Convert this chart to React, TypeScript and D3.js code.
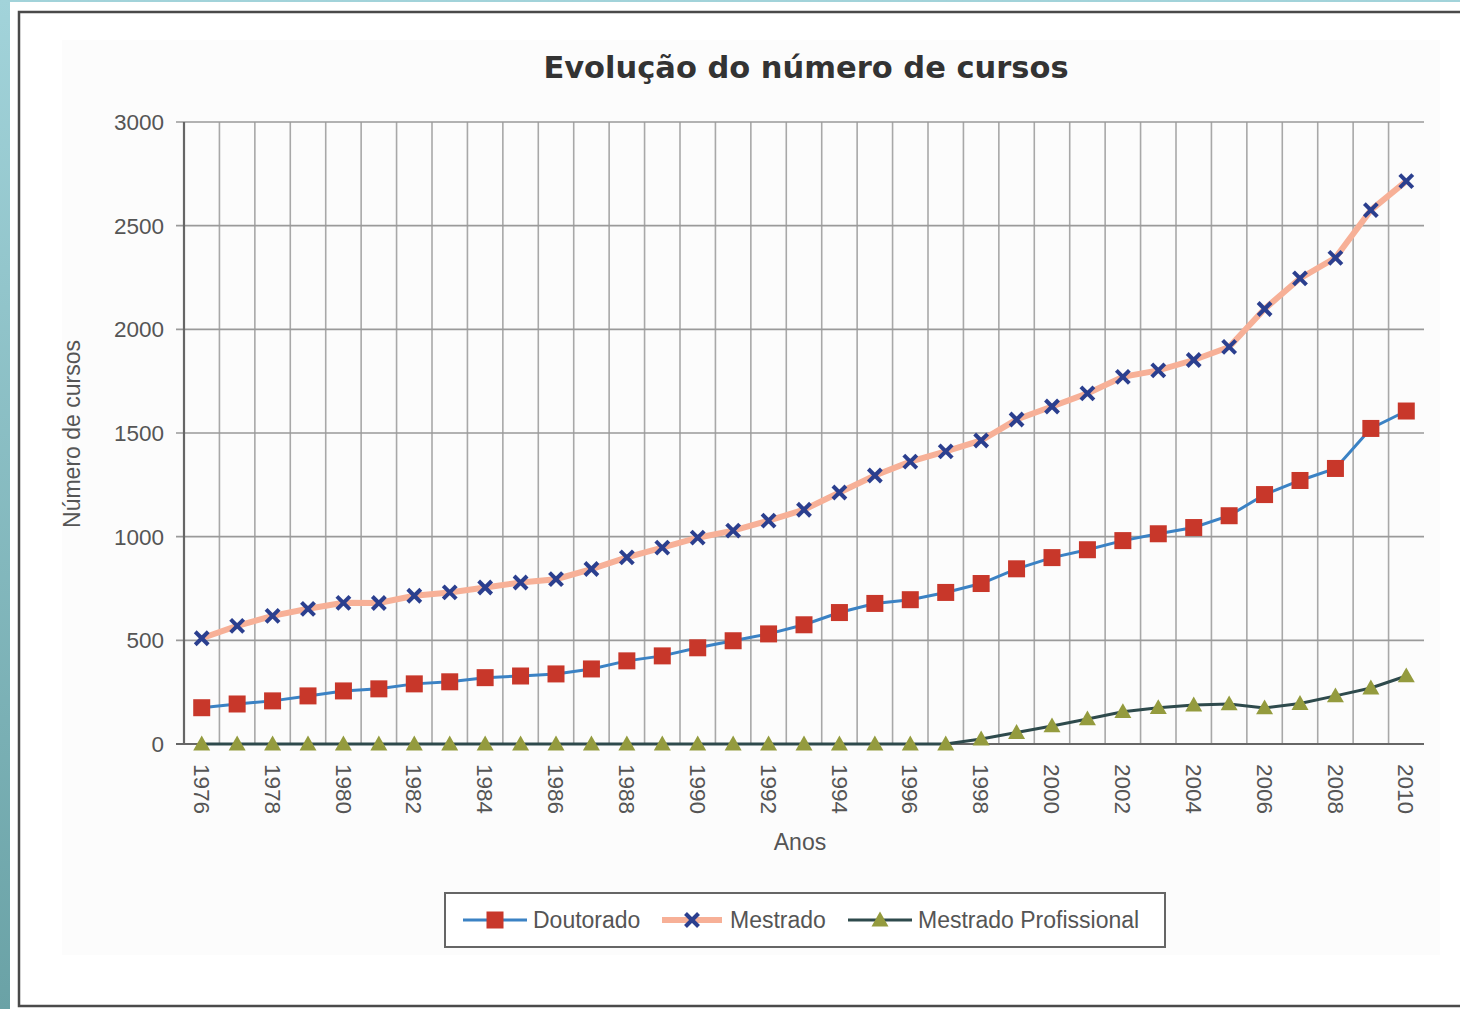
import React from "react";
import * as d3 from "d3";

const years: number[] = [
  1976, 1977, 1978, 1979, 1980, 1981, 1982, 1983, 1984, 1985, 1986, 1987,
  1988, 1989, 1990, 1991, 1992, 1993, 1994, 1995, 1996, 1997, 1998, 1999,
  2000, 2001, 2002, 2003, 2004, 2005, 2006, 2007, 2008, 2009, 2010,
];

const doutorado: number[] = [
  175, 193, 208, 232, 256, 266, 290, 300, 320, 328, 338, 362,
  401, 425, 464, 498, 531, 575, 634, 678, 696, 731, 774, 845,
  899, 937, 981, 1014, 1044, 1101, 1203, 1271, 1329, 1522, 1606,
];

const mestrado: number[] = [
  510, 570, 618, 652, 681, 680, 715, 731, 755, 779, 795, 844,
  900, 947, 995, 1029, 1077, 1130, 1213, 1295, 1362, 1411, 1464, 1565,
  1628, 1691, 1771, 1802, 1852, 1915, 2098, 2246, 2345, 2575, 2715,
];

const mestradoProfissional: number[] = [
  0, 0, 0, 0, 0, 0, 0, 0, 0, 0, 0, 0,
  0, 0, 0, 0, 0, 0, 0, 0, 0, 0, 24, 55,
  87, 121, 156, 175, 188, 193, 174, 195, 232, 270, 328,
];

const yTicks: number[] = [0, 500, 1000, 1500, 2000, 2500, 3000];
const xTickYears: number[] = years.filter((y) => (y - 1976) % 2 === 0);

const TITLE = "Evolução do número de cursos";
const Y_TITLE = "Número de cursos";
const X_TITLE = "Anos";
const seriesNames = ["Doutorado", "Mestrado", "Mestrado Profissional"];

const W = 1460;
const H = 1009;
const PL = 184;
const PR = 1424;
const PT = 122;
const PB = 744;

const TXT = "#555";
const FONT = "'Liberation Sans', Arial, sans-serif";

const C_DOUT_LINE = "#3b82c4";
const C_DOUT_MARK = "#c8372a";
const C_MEST_LINE = "#f7b097";
const C_MEST_MARK = "#2b3f8f";
const C_MP_LINE = "#2e4a4c";
const C_MP_MARK = "#949b3e";

function Square({ x, y }: { x: number; y: number }) {
  const s = 17;
  return <rect x={x - s / 2} y={y - s / 2} width={s} height={s} fill={C_DOUT_MARK} />;
}

function Cross({ x, y }: { x: number; y: number }) {
  const s = 6.5;
  return (
    <g stroke={C_MEST_MARK} strokeWidth={4} strokeLinecap="butt">
      <line x1={x - s} y1={y - s} x2={x + s} y2={y + s} />
      <line x1={x - s} y1={y + s} x2={x + s} y2={y - s} />
    </g>
  );
}

function Tri({ x, y }: { x: number; y: number }) {
  const s = 8.5;
  return (
    <path
      d={`M${x},${y - s}L${x + s},${y + s * 0.75}L${x - s},${y + s * 0.75}Z`}
      fill={C_MP_MARK}
    />
  );
}

export default function App() {
  const x = d3
    .scaleBand<number>()
    .domain(years)
    .range([PL, PR])
    .paddingInner(0)
    .paddingOuter(0);
  const cx = (yr: number) => (x(yr) as number) + x.bandwidth() / 2;
  const y = d3.scaleLinear().domain([0, 3000]).range([PB, PT]);

  const line = d3
    .line<number>()
    .x((_, i) => cx(years[i]))
    .y((v) => y(v));

  const boundaries = years.slice(1).map((yr) => x(yr) as number);

  const legendY = 920;

  return (
    <svg
      width={W}
      height={H}
      style={{ position: "absolute", left: 0, top: 0, display: "block" }}
      fontFamily={FONT}
    >
      <defs>
        <linearGradient id="teal" x1="0" y1="0" x2="0" y2="1">
          <stop offset="0%" stopColor="#a2d3da" />
          <stop offset="100%" stopColor="#6aa2a6" />
        </linearGradient>
      </defs>
      <rect x={0} y={0} width={W} height={H} fill="url(#teal)" />
      <rect x={10} y={2} width={W - 10} height={H - 2} fill="#ffffff" />
      <rect x={62} y={40} width={1378} height={915} fill="#fcfcfc" />
      <rect
        x={19}
        y={12}
        width={W}
        height={994}
        fill="none"
        stroke="#4a4a4a"
        strokeWidth={2.5}
      />

      {/* title */}
      <text
        x={806}
        y={78}
        textAnchor="middle"
        fontFamily="'DejaVu Sans', Verdana, sans-serif"
        fontWeight="bold"
        fontSize={30.5}
        fill="#333"
      >
        {TITLE}
      </text>

      {/* vertical gridlines */}
      {boundaries.map((bx, i) => (
        <line key={"v" + i} x1={bx} x2={bx} y1={PT} y2={PB} stroke="#a8a8a8" strokeWidth={1.6} />
      ))}
      {/* horizontal gridlines */}
      {yTicks.map((t) => (
        <line
          key={"h" + t}
          x1={PL - 8}
          x2={PR}
          y1={y(t)}
          y2={y(t)}
          stroke={t === 0 ? "#666" : "#9a9a9a"}
          strokeWidth={t === 0 ? 2.2 : 1.6}
        />
      ))}
      {/* y axis */}
      <line x1={PL} x2={PL} y1={PT} y2={PB} stroke="#666" strokeWidth={2.2} />

      {/* y tick labels */}
      {yTicks.map((t) => (
        <text
          key={"yt" + t}
          x={164}
          y={y(t)}
          dy="0.35em"
          textAnchor="end"
          fontSize={22.5}
          fill={TXT}
        >
          {t}
        </text>
      ))}

      {/* x tick labels */}
      {xTickYears.map((yr) => (
        <text
          key={"xt" + yr}
          transform={`translate(${cx(yr)},${764}) rotate(90)`}
          dy="0.35em"
          textAnchor="start"
          fontSize={22.5}
          fill={TXT}
        >
          {yr}
        </text>
      ))}

      {/* axis titles */}
      <text
        transform={`translate(${80},${434}) rotate(-90)`}
        textAnchor="middle"
        fontSize={23}
        fill={TXT}
      >
        {Y_TITLE}
      </text>
      <text x={800} y={850} textAnchor="middle" fontSize={23} fill={TXT}>
        {X_TITLE}
      </text>

      {/* series lines */}
      <path d={line(mestrado) || ""} fill="none" stroke={C_MEST_LINE} strokeWidth={6} />
      <path d={line(doutorado) || ""} fill="none" stroke={C_DOUT_LINE} strokeWidth={3} />
      <path d={line(mestradoProfissional) || ""} fill="none" stroke={C_MP_LINE} strokeWidth={3} />

      {/* markers */}
      {mestrado.map((v, i) => (
        <Cross key={"m" + i} x={cx(years[i])} y={y(v)} />
      ))}
      {doutorado.map((v, i) => (
        <Square key={"d" + i} x={cx(years[i])} y={y(v)} />
      ))}
      {mestradoProfissional.map((v, i) => (
        <Tri key={"p" + i} x={cx(years[i])} y={y(v)} />
      ))}

      {/* legend */}
      <rect x={445} y={893} width={720} height={54} fill="#fff" stroke="#666" strokeWidth={2} />
      <g>
        <line x1={463} x2={527} y1={legendY} y2={legendY} stroke={C_DOUT_LINE} strokeWidth={3} />
        <Square x={495} y={legendY} />
        <text x={533} y={legendY} dy="0.35em" fontSize={23} fill={TXT}>
          {seriesNames[0]}
        </text>
      </g>
      <g>
        <line x1={662} x2={722} y1={legendY} y2={legendY} stroke={C_MEST_LINE} strokeWidth={6} />
        <Cross x={692} y={legendY} />
        <text x={730} y={legendY} dy="0.35em" fontSize={23} fill={TXT}>
          {seriesNames[1]}
        </text>
      </g>
      <g>
        <line x1={848} x2={912} y1={legendY} y2={legendY} stroke={C_MP_LINE} strokeWidth={3} />
        <Tri x={880} y={legendY} />
        <text x={918} y={legendY} dy="0.35em" fontSize={23} fill={TXT}>
          {seriesNames[2]}
        </text>
      </g>
    </svg>
  );
}
